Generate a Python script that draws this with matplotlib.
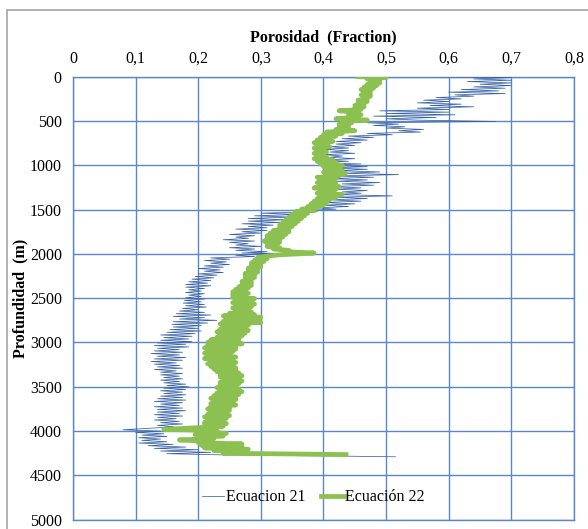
import matplotlib.pyplot as plt
from matplotlib.patches import Rectangle

# Ecuacion 21 (depth m, porosity fraction)
depth_21 = [0, 10, 25, 40, 55, 70, 85, 100, 115, 130, 145, 160, 175, 190, 205, 220, 235, 250, 265, 280,
            295, 310, 325, 340, 355, 370, 385, 400, 415, 430, 445, 460, 475, 490, 505, 520, 535, 550, 565, 580,
            595, 610, 625, 640, 655, 670, 685, 700, 715, 730, 745, 760, 775, 790, 805, 820, 835, 850, 865, 880,
            895, 910, 925, 940, 955, 970, 985, 1000, 1015, 1030, 1045, 1060, 1075, 1090, 1105, 1120, 1135, 1150, 1165, 1180,
            1195, 1210, 1225, 1240, 1255, 1270, 1285, 1300, 1315, 1330, 1345, 1360, 1375, 1390, 1405, 1420, 1435, 1450, 1465, 1480,
            1495, 1510, 1525, 1540, 1555, 1570, 1585, 1600, 1615, 1630, 1645, 1660, 1675, 1690, 1705, 1720, 1735, 1750, 1765, 1780,
            1795, 1810, 1825, 1840, 1855, 1870, 1885, 1900, 1915, 1930, 1945, 1960, 1975, 1990, 1995, 2000, 2015, 2030, 2045, 2060,
            2075, 2090, 2105, 2120, 2135, 2150, 2165, 2180, 2195, 2210, 2225, 2240, 2255, 2270, 2285, 2300, 2315, 2330, 2345, 2360,
            2375, 2390, 2405, 2420, 2435, 2450, 2465, 2480, 2495, 2510, 2525, 2540, 2555, 2570, 2585, 2600, 2615, 2630, 2645, 2660,
            2675, 2690, 2705, 2720, 2735, 2750, 2765, 2780, 2795, 2810, 2825, 2840, 2855, 2870, 2885, 2900, 2915, 2930, 2945, 2960,
            2975, 2990, 3005, 3020, 3035, 3050, 3065, 3080, 3095, 3110, 3125, 3140, 3155, 3170, 3185, 3200, 3215, 3230, 3245, 3260,
            3275, 3290, 3305, 3320, 3335, 3350, 3365, 3380, 3395, 3410, 3425, 3440, 3455, 3470, 3485, 3500, 3515, 3530, 3545, 3560,
            3575, 3590, 3605, 3620, 3635, 3650, 3665, 3680, 3695, 3710, 3725, 3740, 3755, 3770, 3785, 3800, 3815, 3830, 3845, 3860,
            3875, 3890, 3905, 3920, 3935, 3950, 3965, 3985, 4000, 4015, 4030, 4045, 4060, 4075, 4090, 4105, 4120, 4135, 4150, 4165,
            4180, 4195, 4210, 4225, 4240, 4255, 4270, 4280, 4290]
por_21 = [0.575, 0.70, 0.64, 0.70, 0.63, 0.70, 0.65, 0.70, 0.64, 0.69, 0.62, 0.68, 0.60, 0.69, 0.61, 0.64, 0.58, 0.62, 0.56, 0.60,
          0.55, 0.62, 0.57, 0.64, 0.55, 0.60, 0.49, 0.60, 0.50, 0.61, 0.48, 0.58, 0.50, 0.55, 0.675, 0.47, 0.52, 0.48, 0.53, 0.50,
          0.56, 0.52, 0.555, 0.47, 0.51, 0.44, 0.48, 0.43, 0.47, 0.42, 0.46, 0.42, 0.45, 0.41, 0.44, 0.40, 0.44, 0.41, 0.45, 0.40,
          0.43, 0.41, 0.45, 0.40, 0.44, 0.39, 0.46, 0.40, 0.47, 0.41, 0.47, 0.42, 0.49, 0.43, 0.52, 0.42, 0.48, 0.41, 0.47, 0.42,
          0.49, 0.43, 0.48, 0.41, 0.46, 0.42, 0.47, 0.43, 0.46, 0.42, 0.51, 0.42, 0.47, 0.41, 0.46, 0.40, 0.45, 0.40, 0.44, 0.39,
          0.42, 0.37, 0.39, 0.30, 0.36, 0.29, 0.35, 0.28, 0.34, 0.28, 0.33, 0.27, 0.32, 0.28, 0.31, 0.26, 0.31, 0.27, 0.30, 0.25,
          0.29, 0.26, 0.28, 0.24, 0.29, 0.25, 0.28, 0.26, 0.30, 0.25, 0.29, 0.26, 0.31, 0.27, 0.35, 0.30, 0.26, 0.29, 0.22, 0.25,
          0.21, 0.245, 0.22, 0.25, 0.21, 0.24, 0.20, 0.235, 0.21, 0.24, 0.20, 0.23, 0.195, 0.225, 0.19, 0.22, 0.185, 0.215, 0.18, 0.22,
          0.18, 0.21, 0.185, 0.205, 0.18, 0.21, 0.185, 0.205, 0.18, 0.21, 0.178, 0.205, 0.176, 0.21, 0.18, 0.213, 0.175, 0.20, 0.17, 0.21,
          0.165, 0.22, 0.16, 0.21, 0.17, 0.23, 0.16, 0.215, 0.158, 0.205, 0.16, 0.20, 0.155, 0.205, 0.15, 0.195, 0.14, 0.19, 0.145, 0.185,
          0.14, 0.19, 0.135, 0.18, 0.13, 0.185, 0.135, 0.17, 0.13, 0.175, 0.125, 0.17, 0.135, 0.18, 0.13, 0.175, 0.125, 0.165, 0.13, 0.17,
          0.135, 0.175, 0.13, 0.165, 0.14, 0.175, 0.14, 0.17, 0.145, 0.175, 0.14, 0.17, 0.145, 0.18, 0.15, 0.185, 0.145, 0.18, 0.14, 0.175,
          0.145, 0.18, 0.14, 0.175, 0.135, 0.18, 0.13, 0.175, 0.14, 0.17, 0.13, 0.175, 0.135, 0.18, 0.135, 0.17, 0.13, 0.175, 0.135, 0.165,
          0.13, 0.17, 0.14, 0.175, 0.135, 0.16, 0.13, 0.08, 0.14, 0.10, 0.145, 0.11, 0.15, 0.105, 0.14, 0.11, 0.15, 0.105, 0.16, 0.12,
          0.18, 0.13, 0.20, 0.14, 0.22, 0.15, 0.25, 0.40, 0.515]

# Ecuacion 22
depth_22 = [0, 10, 25, 40, 55, 70, 85, 100, 115, 130, 145, 160, 175, 190, 205, 220, 235, 250, 265, 280,
            295, 310, 325, 340, 355, 370, 385, 400, 415, 430, 445, 460, 475, 490, 505, 520, 535, 550, 565, 580,
            595, 610, 625, 640, 655, 670, 685, 700, 715, 730, 745, 760, 775, 790, 805, 820, 835, 850, 865, 880,
            895, 910, 925, 940, 955, 970, 985, 1000, 1015, 1030, 1045, 1060, 1075, 1090, 1105, 1120, 1135, 1150, 1165, 1180,
            1195, 1210, 1225, 1240, 1255, 1270, 1285, 1300, 1315, 1330, 1345, 1360, 1375, 1390, 1405, 1420, 1435, 1450, 1465, 1480,
            1495, 1510, 1525, 1540, 1555, 1570, 1585, 1600, 1615, 1630, 1645, 1660, 1675, 1690, 1705, 1720, 1735, 1750, 1765, 1780,
            1795, 1810, 1825, 1840, 1855, 1870, 1885, 1900, 1915, 1930, 1945, 1960, 1975, 1990, 2000, 2010, 2025, 2040, 2055, 2070,
            2085, 2100, 2115, 2130, 2145, 2160, 2175, 2190, 2205, 2220, 2235, 2250, 2265, 2280, 2295, 2310, 2325, 2340, 2355, 2370,
            2385, 2400, 2415, 2430, 2445, 2460, 2475, 2490, 2505, 2520, 2535, 2550, 2565, 2580, 2595, 2610, 2625, 2640, 2655, 2670,
            2685, 2700, 2715, 2730, 2745, 2760, 2775, 2790, 2805, 2820, 2835, 2850, 2865, 2880, 2895, 2910, 2925, 2940, 2955, 2970,
            2985, 3000, 3015, 3030, 3045, 3060, 3075, 3090, 3105, 3120, 3135, 3150, 3165, 3180, 3195, 3210, 3225, 3240, 3255, 3270,
            3285, 3300, 3315, 3330, 3345, 3360, 3375, 3390, 3405, 3420, 3435, 3450, 3465, 3480, 3495, 3510, 3525, 3540, 3555, 3570,
            3585, 3600, 3615, 3630, 3645, 3660, 3675, 3690, 3705, 3720, 3735, 3750, 3765, 3780, 3795, 3810, 3825, 3840, 3855, 3870,
            3885, 3900, 3915, 3930, 3945, 3960, 3980, 3995, 4010, 4025, 4040, 4055, 4070, 4085, 4100, 4115, 4130, 4145, 4160, 4175,
            4190, 4205, 4220, 4235, 4250, 4265]
por_22 = [0.455, 0.50, 0.47, 0.49, 0.475, 0.49, 0.47, 0.485, 0.465, 0.48, 0.46, 0.475, 0.465, 0.475, 0.46, 0.475, 0.465, 0.47, 0.455, 0.47,
          0.455, 0.465, 0.45, 0.465, 0.45, 0.46, 0.425, 0.455, 0.44, 0.46, 0.44, 0.45, 0.42, 0.47, 0.43, 0.445, 0.425, 0.44, 0.425, 0.44,
          0.42, 0.45, 0.405, 0.43, 0.40, 0.42, 0.395, 0.41, 0.39, 0.415, 0.385, 0.405, 0.39, 0.41, 0.385, 0.40, 0.39, 0.405, 0.385, 0.40,
          0.39, 0.405, 0.385, 0.415, 0.39, 0.42, 0.395, 0.43, 0.40, 0.425, 0.405, 0.43, 0.40, 0.435, 0.41, 0.425, 0.39, 0.42, 0.395, 0.415,
          0.39, 0.42, 0.395, 0.425, 0.385, 0.42, 0.395, 0.415, 0.39, 0.43, 0.40, 0.42, 0.39, 0.41, 0.385, 0.405, 0.38, 0.40, 0.375, 0.39,
          0.365, 0.385, 0.355, 0.375, 0.35, 0.37, 0.345, 0.365, 0.34, 0.36, 0.335, 0.355, 0.33, 0.35, 0.33, 0.345, 0.32, 0.345, 0.315, 0.34,
          0.31, 0.335, 0.31, 0.33, 0.305, 0.33, 0.31, 0.325, 0.31, 0.33, 0.32, 0.345, 0.34, 0.385, 0.36, 0.33, 0.31, 0.295, 0.31, 0.29,
          0.305, 0.285, 0.30, 0.285, 0.30, 0.28, 0.295, 0.28, 0.295, 0.275, 0.29, 0.275, 0.29, 0.275, 0.285, 0.27, 0.285, 0.27, 0.285, 0.265,
          0.28, 0.26, 0.275, 0.255, 0.28, 0.255, 0.27, 0.255, 0.29, 0.26, 0.285, 0.255, 0.29, 0.26, 0.285, 0.255, 0.28, 0.26, 0.285, 0.25,
          0.29, 0.24, 0.30, 0.245, 0.295, 0.24, 0.30, 0.235, 0.28, 0.24, 0.275, 0.235, 0.28, 0.23, 0.275, 0.235, 0.27, 0.23, 0.265, 0.22,
          0.265, 0.215, 0.27, 0.215, 0.26, 0.21, 0.26, 0.215, 0.255, 0.21, 0.25, 0.215, 0.26, 0.21, 0.255, 0.22, 0.26, 0.215, 0.255, 0.22,
          0.26, 0.225, 0.26, 0.23, 0.265, 0.235, 0.27, 0.235, 0.265, 0.24, 0.27, 0.235, 0.265, 0.235, 0.26, 0.23, 0.265, 0.235, 0.27, 0.23,
          0.265, 0.225, 0.26, 0.22, 0.26, 0.225, 0.255, 0.22, 0.26, 0.22, 0.25, 0.215, 0.25, 0.22, 0.245, 0.215, 0.25, 0.21, 0.245, 0.215,
          0.24, 0.21, 0.245, 0.21, 0.24, 0.205, 0.145, 0.23, 0.20, 0.245, 0.195, 0.24, 0.20, 0.225, 0.17, 0.215, 0.20, 0.27, 0.205, 0.27,
          0.21, 0.28, 0.225, 0.275, 0.24, 0.436]

x_ticks = [0, 0.1, 0.2, 0.3, 0.4, 0.5, 0.6, 0.7, 0.8]
x_labels = ['0', '0,1', '0,2', '0,3', '0,4', '0,5', '0,6', '0,7', '0,8']
y_ticks = [0, 500, 1000, 1500, 2000, 2500, 3000, 3500, 4000, 4500, 5000]

plt.rcParams['font.family'] = ['Liberation Serif', 'DejaVu Serif']

grid_col = '#5b87c9'

fig = plt.figure(figsize=(5.88, 5.29), dpi=100)
ax = fig.add_axes([0.1241, 0.0176, 0.852, 0.8374])

# light gray outer frame like the Excel chart area
fig.patches.append(Rectangle((7 / 588, -0.01), 1.0, 1 - 10 / 529 + 0.01, transform=fig.transFigure,
                             fill=False, edgecolor='#a6a6a6', linewidth=1.2))

ax.plot(por_21, depth_21, color='#3862a6', linewidth=0.55, label='Ecuacion 21', zorder=3)
ax.plot(por_22, depth_22, color='#8cc152', linewidth=3.4, label='Ecuación 22', zorder=4)

ax.set_xlim(0, 0.8)
ax.set_ylim(5000, 0)
ax.xaxis.tick_top()
ax.xaxis.set_label_position('top')
ax.set_xticks(x_ticks)
ax.set_xticklabels(x_labels)
ax.set_yticks(y_ticks)
ax.tick_params(axis='both', length=0, labelsize=11.5)
ax.tick_params(axis='y', pad=8)
ax.tick_params(axis='x', pad=7)
ax.grid(True, color=grid_col, linewidth=1.0)
ax.set_axisbelow(True)
for s in ax.spines.values():
    s.set_color(grid_col)
    s.set_linewidth(1.0)

ax.set_xlabel('Porosidad  (Fraction)', fontsize=11.5, fontweight='bold', labelpad=7)
ax.set_ylabel('Profundidad  (m)', fontsize=11.5, fontweight='bold')
ax.yaxis.set_label_coords(-0.088, 0.5)

leg = ax.legend(loc='lower center', bbox_to_anchor=(0.48, 0.0), ncol=2, frameon=False,
                fontsize=11.5, handlelength=1.4, handletextpad=0.1, columnspacing=1.0)
for t in leg.get_texts():
    t.set_fontfamily('Liberation Serif')

plt.savefig('out.png', dpi=100)
